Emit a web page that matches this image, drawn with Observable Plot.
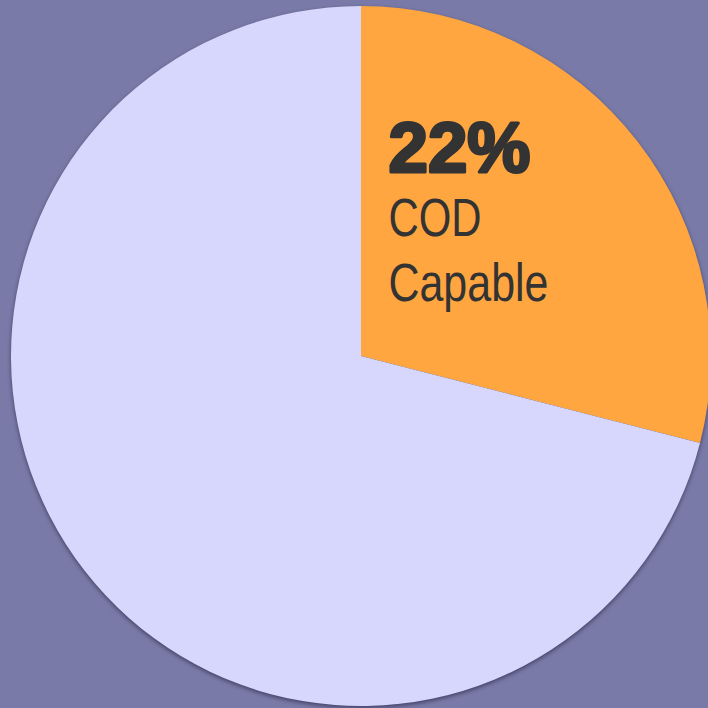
<!DOCTYPE html>
<html>
<head>
<meta charset="utf-8">
<script src="https://cdn.jsdelivr.net/npm/d3@7"></script>
<script src="https://cdn.jsdelivr.net/npm/@observablehq/plot@0.6"></script>
<style>
  html, body { margin: 0; padding: 0; background: #7a7aa8; overflow: hidden; }
  #chart svg { display: block; }
</style>
</head>
<body>
<div id="chart"></div>
<script>
const categories = ["COD Capable", "Other"];
const shares = [0.29, 0.71];
const colors = ["#ffa641", "#d7d7fd"];
// Label texts
const percentLabel = "22%";
const labelLines = ["COD", "Capable"];

const data = categories.map((c, i) => ({category: c, share: shares[i], color: colors[i]}));

function pieMark(rows) {
  return (index, scales, values, dimensions) => {
    const cx = scales.x(0), cy = scales.y(0);
    const r = Math.abs(scales.x(1) - scales.x(0));
    const arcs = d3.pie().sort(null).value(d => d.share)(rows);
    const arc = d3.arc().innerRadius(0).outerRadius(r);
    const svgNS = "http://www.w3.org/2000/svg";
    const g = document.createElementNS(svgNS, "g");
    g.setAttribute("transform", `translate(${cx},${cy})`);
    g.setAttribute("style", "filter: drop-shadow(0px 2px 2px rgba(20,20,50,0.55));");
    for (const a of arcs) {
      const p = document.createElementNS(svgNS, "path");
      p.setAttribute("d", arc(a));
      p.setAttribute("fill", a.data.color);
      g.appendChild(p);
    }
    return g;
  };
}

const chart = Plot.plot({
  width: 708,
  height: 708,
  margin: 0,
  style: {background: "#7a7aa8", overflow: "visible"},
  x: {domain: [-1, 1], range: [11, 711], axis: null},
  y: {domain: [1, -1], range: [6, 706], axis: null},
  marks: [
    pieMark(data),
    Plot.text([percentLabel], {
      x: 0.077, y: 0.528, text: d => d, textAnchor: "start", lineAnchor: "bottom",
      fontSize: 70, fontWeight: "bold", fontFamily: "Liberation Sans, Arial, sans-serif",
      fill: "#333333", stroke: "#333333", strokeWidth: 3, className: "pct"
    }),
    Plot.text([labelLines[0]], {
      x: 0.077, y: 0.345, text: d => d, textAnchor: "start", lineAnchor: "bottom",
      fontSize: 53, fontFamily: "Liberation Sans, Arial, sans-serif",
      fill: "#333333", className: "l1"
    }),
    Plot.text([labelLines[1]], {
      x: 0.077, y: 0.158, text: d => d, textAnchor: "start", lineAnchor: "bottom",
      fontSize: 53, fontFamily: "Liberation Sans, Arial, sans-serif",
      fill: "#333333", className: "l2"
    })
  ]
});
// condense the label lines (narrow face as in the reference)
const fit = [[".l1 text", 93], [".l2 text", 160], [".pct text", 142]];
for (const [sel, w] of fit) {
  chart.querySelectorAll(sel).forEach(t => {
    t.setAttribute("textLength", w);
    t.setAttribute("lengthAdjust", "spacingAndGlyphs");
  });
}
document.getElementById("chart").appendChild(chart);
</script>
</body>
</html>
